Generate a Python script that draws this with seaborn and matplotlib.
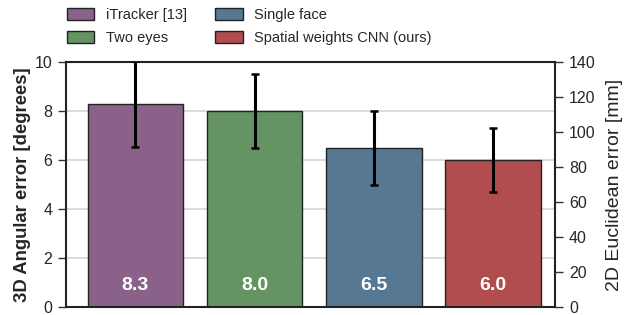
import matplotlib
matplotlib.use("Agg")
import matplotlib.pyplot as plt
import seaborn as sns
import pandas as pd

# values
methods = ["iTracker [13]", "Two eyes", "Single face", "Spatial weights CNN (ours)"]
angular_error = [8.3, 8.0, 6.5, 6.0]
angular_std = [1.75, 1.5, 1.5, 1.3]
bar_colors = ["#8a6289", "#649463", "#567892", "#b14d4e"]
left_ticks = [0, 2, 4, 6, 8, 10]
right_ticks = [0, 20, 40, 60, 80, 100, 120, 140]

sns.set_style("whitegrid")
plt.rcParams["font.family"] = ["Liberation Sans", "DejaVu Sans"]
plt.rcParams["font.size"] = 11.5

df = pd.DataFrame({"method": methods, "error": angular_error})

fig, ax = plt.subplots(figsize=(6.36, 3.15), dpi=100)
fig.subplots_adjust(left=0.104, right=0.873, top=0.803, bottom=0.024)

sns.barplot(data=df, x="method", y="error", hue="method", palette=bar_colors,
            saturation=1, width=0.8, edgecolor="#222222", linewidth=1.0,
            errorbar=None, legend=False, ax=ax)
ax.errorbar(range(len(methods)), angular_error, yerr=angular_std, fmt="none",
            ecolor="black", elinewidth=2.2, capsize=3, capthick=1.8, zorder=5,
            clip_on=True)

for i, v in enumerate(angular_error):
    ax.text(i, 0.9, f"{v:.1f}", color="white", fontweight="bold", fontsize=14,
            ha="center", va="center")

ax.set_xlim(-0.58, 3.52)
ax.set_ylim(0, 10)
ax.set_yticks(left_ticks)
ax.set_xticks([])
ax.set_xlabel("")
ax.set_ylabel("3D Angular error [degrees]", fontweight="bold", fontsize=13.3, labelpad=2.5)
ax.grid(axis="x", visible=False)
ax.grid(axis="y", color="#d6d6d6", linewidth=1.2)
ax.tick_params(axis="y", direction="out", length=6, width=1, color="#333333", pad=4)
for s in ax.spines.values():
    s.set_color("#222222")
    s.set_linewidth(1.5)

ax2 = ax.twinx()
ax2.set_ylim(0, 140)
ax2.set_yticks(right_ticks)
ax2.grid(False)
ax2.set_ylabel("2D Euclidean error [mm]", fontsize=14, labelpad=7.5)
ax2.tick_params(axis="y", direction="out", length=6, width=1, color="#333333", pad=4)
for s in ax2.spines.values():
    s.set_visible(False)

handles = [plt.Rectangle((0, 0), 1, 1, facecolor=c, edgecolor="#222222", linewidth=1)
           for c in bar_colors]
fig.legend(handles, methods, ncol=2, frameon=False, loc="upper left",
           bbox_to_anchor=(0.105, 0.975), fontsize=10.5, handlelength=1.9,
           handleheight=0.85, handletextpad=0.8, columnspacing=1.9,
           labelspacing=0.65, borderpad=0, borderaxespad=0)

fig.savefig("out.png", dpi=100)
